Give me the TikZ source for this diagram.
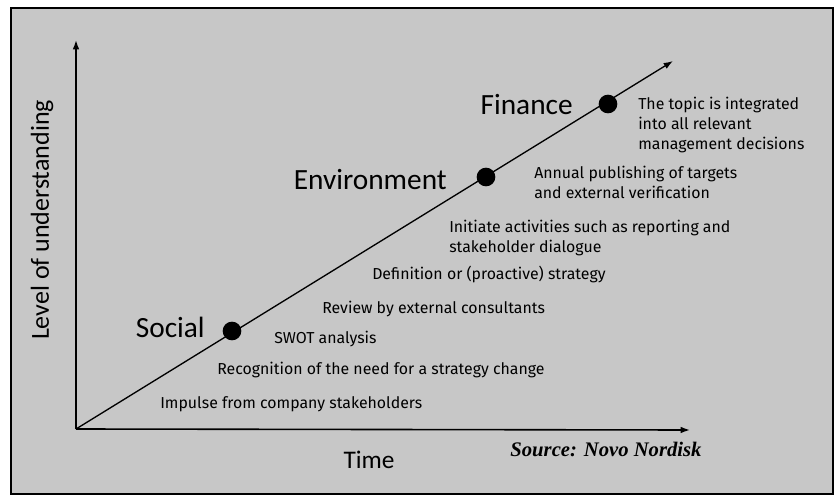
\documentclass[tikz,border=0pt]{standalone}
\usepackage{fontspec}
\setmainfont{Carlito}
\newfontfamily\stepfont{Fira Sans}
\newfontfamily\srcfont{Liberation Serif}
\usetikzlibrary{arrows.meta}

\begin{document}
\begin{tikzpicture}[x=0.75pt,y=-0.75pt]
		\tikzset{AxisStyle/.style={line width=1.2pt,-{Latex[length=7pt,width=5pt]}},
			StageDot/.style={circle,fill=black,inner sep=0pt,minimum size=14pt},
			StageLabel/.style={font=\fontsize{22}{22}\selectfont,anchor=east,inner sep=0pt},
			StepText/.style={font=\stepfont\fontsize{11.9}{15}\selectfont,anchor=west,align=left,inner sep=0pt}}
		% page and shaded panel
		\useasboundingbox (0,0) rectangle (839,499);
		\fill[white] (0,0) rectangle (839,499);
		\draw[line width=1pt,fill=black!22] (11,8) rectangle (833,494);

		% axes
		\coordinate (O) at (76,429);
		\coordinate (ytop) at (76,40);
		\coordinate (xend) at (690,430);
		\coordinate (dtop) at (673,61);
		\draw[AxisStyle] (O) -- (ytop);
		\draw[AxisStyle] (O) -- (xend);
		\draw[line width=1pt,-{Latex[length=7pt,width=5pt]}] (O) -- (dtop);

		\node[rotate=90,font=\fontsize{19.5}{19.5}\selectfont] (ylab) at (42,220) {Level of understanding};
		\node[font=\fontsize{19}{19}\selectfont] (xlab) at (369,460) {Time};
		\node[font=\srcfont\bfseries\itshape\fontsize{15.5}{15.5}\selectfont] (src) at (606,449) {Source: Novo Nordisk};

		% the three stages
		\node[StageDot] (social) at (232,331) {};
		\node[StageDot] (envir) at (486,177) {};
		\node[StageDot] (finance) at (608,104) {};
		\node[StageLabel] (soclab) at (205,327) {Social};
		\node[StageLabel] (envlab) at (447,180) {Environment};
		\node[StageLabel] (finlab) at (573,105) {Finance};

		% steps along the line
		\node[StepText] (s1) at (160,404) {Impulse from company stakeholders};
		\node[StepText] (s2) at (217,370) {Recognition of the need for a strategy change};
		\node[StepText] (s3) at (274,339) {SWOT analysis};
		\node[StepText] (s4) at (322,309) {Review by external consultants};
		\node[StepText] (s5) at (372,274) {Definition or (proactive) strategy};
		\node[StepText] (s6) at (449,238) {Initiate activities such as reporting and\\stakeholder dialogue};
		\node[StepText] (s7) at (534,182) {Annual publishing of targets\\and external verification};
		\node[StepText] (s8) at (638,125) {The topic is integrated\\into all relevant\\management decisions};
\end{tikzpicture}
\end{document}
